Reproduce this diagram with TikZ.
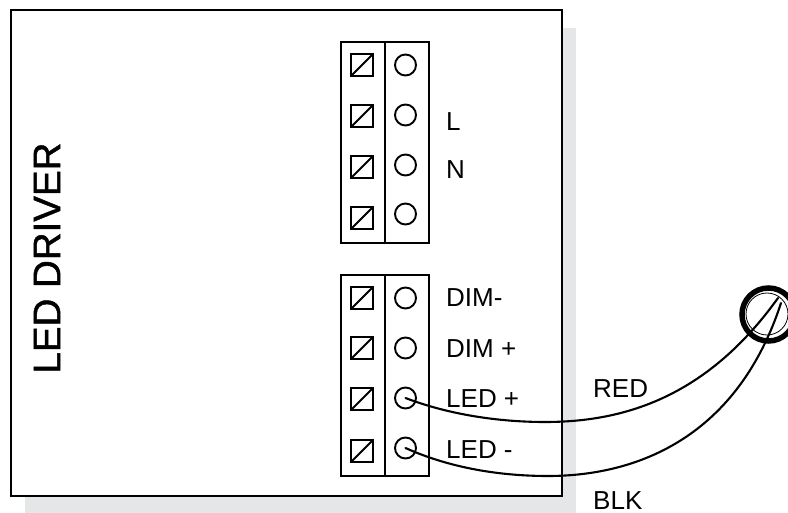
\documentclass[tikz,border=0pt]{standalone}
\usepackage{fontspec}
\setmainfont{Liberation Sans}
\newfontfamily\titlefont[FakeBold=1.2]{Liberation Sans}
\definecolor{shadowgrey}{RGB}{229,230,232}
\tikzset{
  lbl/.style={anchor=base west,inner sep=0pt,font=\fontsize{26}{28}\selectfont,text=black},
  wire/.style={line width=2.1pt,line cap=round},
  outline/.style={draw=black,line width=2.2pt},
  port/.style={draw=black,line width=1.9pt,circle,minimum size=21pt,inner sep=0pt},
  clamp/.style={draw=black,line width=2.4pt,minimum size=22pt,inner sep=0pt,
    path picture={\draw[line width=1.9pt] (path picture bounding box.south west)--(path picture bounding box.north east);}}
}
\begin{document}
\begin{tikzpicture}[x=1pt,y=-1pt]
\useasboundingbox (0,0) rectangle (788,513);
\fill[shadowgrey] (25,28) rectangle (576,513);
\node[outline,fill=white,minimum width=551pt,minimum height=486pt,inner sep=0pt] (driver) at (286.5,253) {};
\node[rotate=90,inner sep=0pt,font=\titlefont\fontsize{38.5}{40}\selectfont] (title) at (47,258) {LED DRIVER};
% top block
\node[outline,minimum width=44pt,minimum height=201pt,inner sep=0pt] (ta) at (363,142.5) {};
\node[outline,minimum width=44pt,minimum height=201pt,inner sep=0pt] (tb) at (407,142.5) {};
\foreach \n/\y in {1/65,2/116,3/167,4/218}{\node[clamp] (tc\n) at (362,\y) {};}
\foreach \n/\y in {1/65,2/115,3/165,4/214}{\node[port] (tp\n) at (405.5,\y) {};}
% bottom block
\node[outline,minimum width=44pt,minimum height=201pt,inner sep=0pt] (ba) at (363,375.5) {};
\node[outline,minimum width=44pt,minimum height=201pt,inner sep=0pt] (bb) at (407,375.5) {};
\foreach \n/\y in {1/298,2/348,3/399,4/451}{\node[clamp] (bc\n) at (362,\y) {};}
\foreach \n/\y in {1/298,2/348,3/398,4/448}{\node[port] (bp\n) at (405.5,\y) {};}
% labels
\node[lbl] (l) at (446,131) {L};
\node[lbl] (n) at (446,179) {N};
\node[lbl] (dm) at (446,307) {DIM-};
\node[lbl] (dp) at (446,358) {DIM +};
\node[lbl] (lp) at (446,407) {LED +};
\node[lbl] (lm) at (446,458) {LED -};
\node[lbl] (red) at (593,398) {RED};
\node[lbl] (blk) at (593,509) {BLK};
% screw
\coordinate (s1) at (778,298);
\coordinate (s2) at (781,303);
\node[draw=black,line width=5.5pt,circle,minimum size=53pt,inner sep=0pt] (screw) at (768.5,314.5) {};
\node[draw=black,line width=.8pt,circle,minimum size=42pt,inner sep=0pt] (screwin) at (767,314) {};
\draw[wire] (bp3.center) .. controls (450,415) and (500,422) .. (545,422) .. controls (620,422) and (705,400) .. (s1);
\draw[wire] (bp4.center) .. controls (450,468) and (500,476) .. (548,476) .. controls (640,476) and (738,435) .. (s2);
\end{tikzpicture}
\end{document}
